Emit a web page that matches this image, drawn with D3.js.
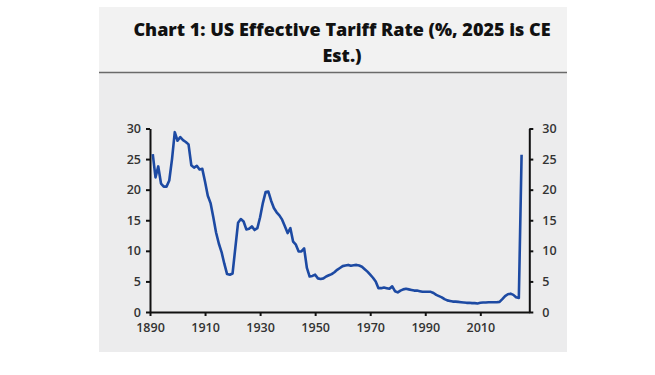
<!DOCTYPE html>
<html><head><meta charset="utf-8">
<script src="https://cdn.jsdelivr.net/npm/d3@7"></script>
<style>body{margin:0;background:#fff;}svg{display:block;}</style>
</head><body>
<script>
const titleLines = ["Chart 1: US Effective Tariff Rate (%, 2025 is CE", "Est.)"];
const years = d3.range(1891, 2026);
const tariffRate = [
25.8,22.0,23.8,21.0,20.5,20.5,21.5,25.0,29.4,28.0,
28.6,28.1,27.8,27.4,24.0,23.6,23.9,23.3,23.4,21.3,
19.0,17.8,15.5,13.0,11.2,9.8,7.9,6.2,6.1,6.3,
10.5,14.6,15.2,14.8,13.5,13.6,14.0,13.4,13.7,15.5,
17.8,19.6,19.7,18.2,17.0,16.3,15.8,15.1,14.0,12.9,
13.7,11.5,11.0,9.9,9.9,10.4,7.2,5.8,5.9,6.1,
5.5,5.4,5.5,5.8,6.0,6.2,6.5,6.9,7.2,7.5,
7.6,7.7,7.55,7.65,7.7,7.6,7.4,7.0,6.6,6.1,
5.6,5.0,3.9,3.9,4.0,3.9,3.8,4.2,3.4,3.2,
3.5,3.7,3.8,3.7,3.6,3.5,3.5,3.4,3.3,3.3,
3.3,3.3,3.1,2.8,2.6,2.4,2.1,1.9,1.8,1.7,
1.7,1.65,1.6,1.55,1.5,1.5,1.45,1.45,1.4,1.5,
1.55,1.55,1.6,1.6,1.6,1.6,1.65,2.1,2.6,2.9,
3.0,2.8,2.4,2.3,25.7];
const xTicks = [1890,1910,1930,1950,1970,1990,2010];
const yTicks = [0,5,10,15,20,25,30];

const W = 655, H = 375;
const svg = d3.select("body").append("svg").attr("width", W).attr("height", H);

// panels
svg.append("rect").attr("x",99).attr("y",7).attr("width",468).attr("height",66).attr("fill","#f2f2f2");
svg.append("rect").attr("x",99).attr("y",73).attr("width",468).attr("height",279).attr("fill","#ececed");
svg.append("line").attr("x1",99).attr("x2",567).attr("y1",72.5).attr("y2",72.5).attr("stroke","#6a6a6a").attr("stroke-width",1.5);

// title
const t = svg.append("text").attr("text-anchor","middle").attr("font-family","'Open Sans', sans-serif")
  .attr("font-weight",800).attr("font-size",18).attr("fill","#111");
titleLines.forEach((s,i)=> t.append("tspan").attr("x",342).attr("y",36 + i*26).text(s));

const x = d3.scaleLinear().domain([1890, 2027.8]).range([150, 529.3]);
const y = d3.scaleLinear().domain([0, 30]).range([312, 128.5]);

const font = "'Open Sans', sans-serif";

const gx = svg.append("g").attr("transform","translate(0,312)")
  .call(d3.axisBottom(x).tickValues(xTicks).tickFormat(d3.format("d")).tickSize(4).tickSizeOuter(0));
const gl = svg.append("g").attr("transform","translate(150,0)")
  .call(d3.axisLeft(y).tickValues(yTicks).tickSize(4).tickSizeOuter(0));
const gr = svg.append("g").attr("transform","translate(529.3,0)")
  .call(d3.axisRight(y).tickValues(yTicks).tickSize(4).tickSizeOuter(0));
[gx,gl,gr].forEach(g=>{
  g.select(".domain").attr("stroke","#111").attr("stroke-width",2);
  g.selectAll(".tick line").attr("stroke","#111").attr("stroke-width",2);
  g.selectAll(".tick text").attr("font-family",font).attr("font-size",12.5).attr("font-weight",600).attr("fill","#333");
});
gx.selectAll(".tick text").attr("dy","1.0em");
gl.selectAll(".tick text").attr("x",-9);
gr.selectAll(".tick text").attr("x",13);

const line = d3.line().x((d,i)=>x(years[i])).y(d=>y(d));
svg.append("path").datum(tariffRate).attr("d",line).attr("fill","none")
  .attr("stroke","#1d4aa3").attr("stroke-width",2.6).attr("stroke-linejoin","round");
</script>
</body></html>
